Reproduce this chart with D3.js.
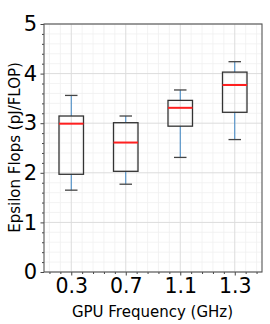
<!DOCTYPE html>
<html><head><meta charset="utf-8">
<script src="https://cdn.jsdelivr.net/npm/d3@7"></script>
<style>body{margin:0;background:#fff}svg{display:block}text{font-family:"DejaVu Sans",sans-serif}</style>
</head><body><svg id="c" width="270" height="324"></svg>
<script>
const categories = ["0.3","0.7","1.1","1.3"];
const whiskerLow  = [1.65, 1.77, 2.31, 2.67];
const q1          = [1.97, 2.03, 2.94, 3.22];
const median      = [2.99, 2.61, 3.31, 3.77];
const q3          = [3.145, 3.01, 3.46, 4.03];
const whiskerHigh = [3.56, 3.145, 3.67, 4.24];
const yTicks = [0,1,2,3,4,5];

const svg = d3.select("#c");
const L=44, R=262, T=24, B=272;
const x = d3.scaleLinear().domain([0.5,4.5]).range([L,R]);
const y = d3.scaleLinear().domain([0,5]).range([B,T]);

// minor grid
const xMinor = d3.range(0.6,4.5,0.2).filter(v=>Math.abs(v-Math.round(v))>1e-6);
const yMinor = d3.range(0,5.01,0.2).filter(v=>Math.abs(v-Math.round(v))>1e-6);
const g = svg.append("g");
g.selectAll(".xm").data(xMinor).join("line").attr("x1",d=>x(d)).attr("x2",d=>x(d)).attr("y1",T).attr("y2",B).attr("stroke","#f0f0f0").attr("stroke-width",0.8);
g.selectAll(".ym").data(yMinor).join("line").attr("y1",d=>y(d)).attr("y2",d=>y(d)).attr("x1",L).attr("x2",R).attr("stroke","#f0f0f0").attr("stroke-width",0.8);
// major grid
g.selectAll(".xM").data([1,2,3,4]).join("line").attr("x1",d=>x(d)).attr("x2",d=>x(d)).attr("y1",T).attr("y2",B).attr("stroke","#dcdcdc").attr("stroke-width",1);
g.selectAll(".yM").data(yTicks).join("line").attr("y1",d=>y(d)).attr("y2",d=>y(d)).attr("x1",L).attr("x2",R).attr("stroke","#dcdcdc").attr("stroke-width",1);

// axes
const xAxis = d3.axisBottom(x).tickValues([1,2,3,4]).tickFormat((d,i)=>categories[i]).tickSize(3.5).tickPadding(3);
const xa = svg.append("g").attr("transform",`translate(0,${B})`).call(xAxis);
xa.select(".domain").remove();
xa.selectAll("text").attr("font-size",20.5).attr("fill","#000").attr("font-family","DejaVu Sans");
xa.selectAll("line").attr("stroke","#444");
const xm = svg.append("g").attr("transform",`translate(0,${B})`).call(d3.axisBottom(x).tickValues(xMinor).tickFormat("").tickSize(2));
xm.select(".domain").remove(); xm.selectAll("line").attr("stroke","#444");

const yAxis = d3.axisLeft(y).tickValues(yTicks).tickFormat(d3.format("d")).tickSize(3.5).tickPadding(3.5);
const ya = svg.append("g").attr("transform",`translate(${L},0)`).call(yAxis);
ya.select(".domain").remove();
ya.selectAll("text").attr("font-size",21).attr("fill","#000").attr("font-family","DejaVu Sans");
ya.selectAll("line").attr("stroke","#444");
const ym = svg.append("g").attr("transform",`translate(${L},0)`).call(d3.axisLeft(y).tickValues(yMinor).tickFormat("").tickSize(2));
ym.select(".domain").remove(); ym.selectAll("line").attr("stroke","#444");

// boxes
const bw = 24.5, cw = 12.5;
const boxes = svg.append("g").selectAll("g").data(categories).join("g");
boxes.each(function(c,i){
  const s = d3.select(this), cx = x(i+1);
  s.append("line").attr("x1",cx).attr("x2",cx).attr("y1",y(q3[i])).attr("y2",y(whiskerHigh[i])).attr("stroke","#3f86c4").attr("stroke-width",1);
  s.append("line").attr("x1",cx).attr("x2",cx).attr("y1",y(q1[i])).attr("y2",y(whiskerLow[i])).attr("stroke","#3f86c4").attr("stroke-width",1);
  s.append("line").attr("x1",cx-cw/2).attr("x2",cx+cw/2).attr("y1",y(whiskerHigh[i])).attr("y2",y(whiskerHigh[i])).attr("stroke","#444").attr("stroke-width",1.3);
  s.append("line").attr("x1",cx-cw/2).attr("x2",cx+cw/2).attr("y1",y(whiskerLow[i])).attr("y2",y(whiskerLow[i])).attr("stroke","#444").attr("stroke-width",1.3);
  s.append("rect").attr("x",cx-bw/2).attr("width",bw).attr("y",y(q3[i])).attr("height",y(q1[i])-y(q3[i])).attr("fill","none").attr("stroke","#333").attr("stroke-width",1.3);
  s.append("line").attr("x1",cx-bw/2).attr("x2",cx+bw/2).attr("y1",y(median[i])).attr("y2",y(median[i])).attr("stroke","#ff2020").attr("stroke-width",2);
});

// frame
svg.append("rect").attr("x",L).attr("y",T).attr("width",R-L).attr("height",B-T).attr("fill","none").attr("stroke","#555").attr("stroke-width",1.1);

// labels
svg.append("text").attr("x",152.5).attr("y",317).attr("text-anchor","middle").attr("font-size",15).text("GPU Frequency (GHz)");
svg.append("text").attr("transform",`translate(20,147.5) rotate(-90)`).attr("text-anchor","middle").attr("font-size",15).text("Epsilon Flops (pJ/FLOP)");
</script></body></html>
